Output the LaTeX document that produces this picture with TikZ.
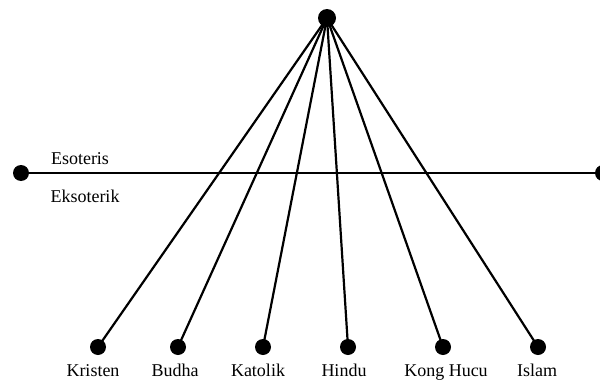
\documentclass[tikz,border=0pt]{standalone}
\usepackage{fontspec}
\setmainfont{Liberation Serif}
\begin{document}
\begin{tikzpicture}[x=0.5pt,y=-0.5pt,
  dot/.style={circle,fill=black,inner sep=0pt,minimum size=8pt},
  bigdot/.style={circle,fill=black,inner sep=0pt,minimum size=9pt},
  lbl/.style={font=\fontsize{9}{10}\selectfont,inner sep=0pt,anchor=base},
  link/.style={line width=1.1pt}]
\useasboundingbox (0,0) rectangle (600,380);
% apex and the dividing line
\node[bigdot] (top) at (327,18) {};
\node[dot] (left) at (21,173) {};
\node[dot] (right) at (603,173) {};
\draw[link] (left.center) -- (right.center);
\node[lbl] (eso) at (80,164) {Esoteris};
\node[lbl] (eks) at (85,202) {Eksoterik};
% the six religions
\foreach \n/\x/\lx/\t in {kristen/98/93/Kristen, budha/178/175/Budha,
    katolik/263/258/Katolik, hindu/348/344/Hindu,
    konghucu/443/446/Kong Hucu, islam/538/537/Islam}{
  \node[dot] (\n) at (\x,347) {};
  \node[lbl] (\n-t) at (\lx,376) {\t};
  \draw[link] (top.center) -- (\n.center);
}
\end{tikzpicture}
\end{document}
